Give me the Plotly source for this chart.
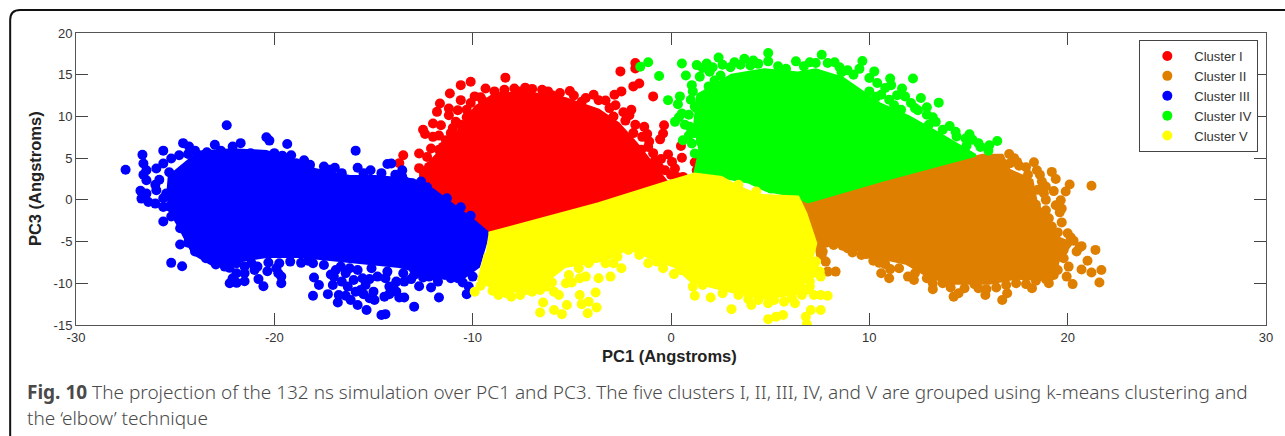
import plotly.graph_objects as go

names = ["Cluster I", "Cluster II", "Cluster III", "Cluster IV", "Cluster V"]
colors = ["#ff0000", "#df7f00", "#0000ff", "#00ff00", "#ffff00"]
x_ticks = [-30, -20, -10, 0, 10, 20, 30]
x_tick_labels = ["-30", "-20", "-10", "0", "10", "20", "30"]
y_ticks = [-15, -10, -5, 0, 5, 10, 15, 20]
y_tick_labels = ["-15", "-10", "-5", "0", "5", "10", "15", "20"]

# dense, fully overlapped part of each cluster, read as an outline
red_core_x = [-12.7,-10.95,-9.85,-8.85,-7.0,-5.35,-3.65,-2.65,-1.75,-0.8,-0.15,-9.2,-10.0,-11.2,-12.7]
red_core_y = [3.15,7.55,11.15,12.75,12.75,12.15,10.75,9.15,6.75,3.95,1.95,-4.0,-2.4,-0.4,2.75]
orange_core_x = [6.55,15.7,16.7,17.05,18.2,18.4,19.05,19.55,20.2,19.55,19.2,17.35,16.05,14.0,12.85,11.85,9.85,8.65,7.75,7.4,7.25]
orange_core_y = [-0.25,5.35,5.35,3.55,2.35,-0.05,-3.2,-4.6,-5.2,-7.2,-9.6,-9.4,-10,-10,-9.0,-7.6,-6.6,-5.0,-5.6,-6.8,-4.4]
blue_core_x = [-25.4,-25.3,-23.8,-22.1,-20.4,-19.1,-17.9,-16.2,-14.9,-13.0,-12.0,-10.0,-9.2,-9.7,-10.4,-12.0,-13.7,-15.4,-17.1,-18.7,-20.4,-22.1,-23.1,-24.1,-24.8,-25.4]
blue_core_y = [-0.1,2.8,5.75,6.0,5.8,4.8,3.6,2.8,2.8,2.4,1.2,-2.4,-4.0,-8.0,-9.2,-9.0,-8.0,-7.6,-7.2,-6.8,-6.8,-7.4,-7.8,-6.4,-3.2,-0.8]
green_core_x = [1.2,1.45,1.2,1.35,3.05,4.7,6.4,7.3,8.65,9.65,10.5,12.0,13.5,15.35,10.65,6.9,6.25,4.8,3.9,2.55]
green_core_y = [3.15,5.95,9.15,12.55,14.95,15.6,15.2,15.6,14.6,13.0,11.55,9.95,7.95,5.35,2.35,-0.25,0.45,1.15,2.15,2.75]
yellow_core_x = [-9.2,-7.0,-3.65,-0.15,1.2,2.55,3.4,4.4,6.4,6.8,7.3,7.05,6.4,4.7,3.05,1.05,0.2,-1.15,-2.15,-3.3,-5.35,-6.65,-8.5,-9.7,-9.35]
yellow_core_y = [-4.0,-2.6,-0.45,2.15,3.1,2.7,1.55,0.55,0.35,-1.65,-5.2,-7.6,-11.2,-11.8,-11,-9.8,-8,-6.8,-5.8,-7.2,-8,-10.4,-11.2,-9.6,-6.4]

# individually visible points
red_pts = [(-8.35,14.65),(-10.1,14.15),(-10.6,13.75),(-9.35,13.35),(-11.15,12.75),(-10.6,11.95),(-11.65,11.55),(-11.2,10.95),(-10.75,10.75),(-11.8,10.55),(-11.2,10.15),(-10.85,9.35),(-12.0,9.15),(-12.5,8.4),(-12.0,7.55),(-11.6,8.95),(-11.35,7.15),(-12.1,6.15),(-12.7,5.55),(-13.5,5.35),(-13.7,4.4),(-11.5,6.35),(-12.3,5.15),(-12.2,3.95),(-11.2,4.85),(-11.7,4.35),(-11.5,3.55),(-10.95,3.15),(-10.35,2.95),(-9.75,1.95),(-10.95,1.15),(-7.9,13.35),(-7.35,13.45),(-6.5,13.2),(-6.0,12.55),(-5.1,13.05),(-3.9,12.6),(-4.5,11.75),(-3.65,11.95),(-2.85,12.6),(-2.5,13.0),(-2.8,11.35),(-2.55,15.4),(-1.8,16.4),(-1.8,15.75),(-1.9,13.6),(-1.6,13.95),(-0.9,12.4),(-2.0,10.8),(-2.1,10.15),(-1.35,8.75),(-0.35,8.95),(-0.4,7.95),(-0.55,7.25),(-1.45,7.55),(0.5,6.45),(-0.15,5.45),(0.55,5.05),(0.05,4.55),(0.2,3.75),(-0.3,3.55),(1.2,4.5),(1.3,3.55),(0.6,2.75),(0.3,2.75),(-0.8,4.75),(-1.15,6.35),
 (-8.9,13.0),(-8.4,13.2),(-7.6,13.0),(-7.0,13.3),(-6.2,13.0),(-5.6,12.8),(-4.9,12.5),(-4.3,12.2),(-3.3,11.9),(-3.1,11.0),(-2.4,10.5),(-2.9,10.0),(-2.3,9.5),(-1.8,9.0),(-1.9,8.0),(-1.2,7.9),(-1.1,7.0),(-1.5,6.0),(-0.9,5.6),(-0.5,4.9),(-0.6,3.9),(0.0,3.0),(-9.6,12.3),(-9.9,12.4),(-10.1,11.6),(-9.5,11.9),(-10.3,10.8),(-10.3,9.9),(-10.6,9.0),(-11.0,8.6),(-11.1,8.0),(-11.7,7.7),(-12.4,7.9),(-11.0,7.0),(-11.7,6.0),(-11.3,5.7),(-12.7,3.8),(-12.3,3.2),(-11.9,2.8),(-11.2,2.2),(-10.6,2.5),(-10.4,1.2),(-10.2,0.6),(-10.9,0.2),(-9.6,0.4),(-10.0,-0.8),(-9.8,-1.6),(-11.1,3.9),(-10.6,4.5),(-10.5,5.6),(-10.2,6.8)]
orange_pts = [(17.05,5.5),(17.45,4.55),(17.55,4.1),(18.3,4.5),(18.45,3.55),(19.2,3.35),(19.4,2.5),(20.1,1.85),(21.2,1.7),(19.9,1.0),(19.3,1.05),(18.9,1.6),(18.9,0),(19.65,-0.05),(19.4,-0.65),(19.7,-1.05),(19.6,-1.5),(18.9,-1.25),(19.05,-2.2),(19.7,-2.7),(20.15,-4.5),(20.7,-5.55),(20.45,-6.2),(21.4,-6.0),(21.0,-7.3),(20.7,-8.35),(21.2,-8.7),(21.7,-8.4),(21.6,-9.9),(20.25,-10.1),(19.95,-9.2),(20.05,-8.0),(19.8,-7.0),(19.05,-10),(18.2,-10.6),(16.7,-12),(16.95,-11.2),(15.85,-11.4),(15.5,-10.6),(14.5,-11.2),(14.25,-11.6),(13.2,-10.7),(13.7,-10),(12.25,-9.6),(11.95,-9.2),(11.0,-9.4),(10.6,-8.8),(11.05,-8.3),(10.5,-7.55),(9.85,-6.5),(9.15,-6.3),(8.65,-5.5),(7.8,-7.4),(7.9,-8.6),(8.3,-8.6),(7.65,-6.2),
 (17.3,5.0),(17.1,4.4),(17.9,3.9),(18.0,3.0),(18.6,3.0),(18.7,2.2),(18.5,1.2),(18.8,0.8),(18.4,-0.6),(18.6,-1.6),(18.7,-2.6),(19.2,-3.2),(19.5,-3.9),(20.0,-4.0),(19.0,-4.5),(20.3,-4.9),(20.6,-5.7),(19.8,-6.0),(19.3,-7.6),(19.5,-8.4),(19.3,-9.0),(18.9,-9.5),(18.4,-9.7),(17.9,-10.1),(17.4,-10.0),(16.9,-10.2),(16.4,-10.5),(15.9,-10.7),(15.3,-10.1),(14.8,-10.6),(14.1,-10.5),(13.2,-10.0),(12.9,-9.4),(12.3,-8.8),(11.5,-8.2),(10.8,-7.7),(10.2,-7.3),(9.6,-6.6),(8.9,-5.8),(8.2,-5.4),(7.6,-6.6),(7.5,-5.6)]
blue_pts = [(-27.5,3.6),(-26.65,5.4),(-25.6,5.9),(-24.6,6.8),(-24.3,6.4),(-23.0,6.6),(-22.4,8.95),(-22.1,6.4),(-21.7,6.8),(-20.4,7.5),(-20.25,7.1),(-19.35,6.7),(-15.9,5.9),(-18.5,4.75),(-19.15,5.35),(-17.5,4.0),(-16.95,3.85),(-15.8,3.85),(-15.15,3.55),(-14.3,4.3),(-14.1,4.35),(-13.55,3.55),(-13.55,2.75),(-14.05,2.15),(-26.6,4.35),(-26.45,3.55),(-26.6,3.0),(-26.45,2.35),(-25.95,3.75),(-25.6,4.35),(-25.2,4.95),(-24.8,5.35),(-24.35,5.5),(-26.75,1.1),(-26.7,0.15),(-26.35,-0.25),(-26.0,-0.45),(-26.45,0.75),(-25.95,1.15),(-25.45,0.75),(-25.6,-0.85),(-25.6,-2.6),(-25.2,-2.0),(-24.75,-3.4),(-24.75,-5.35),(-24.35,-5.15),(-25.2,-7.55),(-24.65,-7.95),(-24.0,-6.2),(-23.45,-7.0),(-22.95,-7.75),(-22.25,-10.0),(-22.25,-8.15),(-21.9,-9.95),(-21.9,-8.8),(-21.5,-8.8),(-21.5,-9.75),(-21.75,-7.0),(-21.15,-7.6),(-20.85,-8.0),(-20.8,-9.5),(-20.55,-10.35),(-20.35,-8.55),(-19.75,-7.6),(-19.8,-8.8),(-19.65,-9.2),(-19.65,-10.0),(-18.65,-7.55),(-18.05,-7.6),(-18.0,-9.3),(-18.05,-11.5),(-17.75,-10.2),(-17.3,-11.3),(-17.15,-8.95),(-17.05,-10.2),(-16.8,-12.3),(-16.75,-11.4),(-16.65,-8.0),(-16.4,-8.8),(-16.3,-10.4),(-16.15,-12.0),(-15.8,-12.6),(-15.8,-8.4),(-15.55,-9.4),(-15.65,-10.8),(-15.4,-10.2),(-15.35,-13.2),(-15.2,-11.8),(-14.95,-12.0),(-14.8,-9.2),(-15.0,-11.0),(-14.6,-13.8),(-14.4,-13.7),(-14.45,-11.6),(-14.2,-10.4),(-13.85,-9.8),(-13.85,-11.0),(-13.7,-11.7),(-13.45,-11.7),(-13.45,-9.8),(-12.95,-12.8),(-12.7,-10.35),(-12.95,-9.0),(-12.1,-10.5),(-12.2,-9.2),(-11.75,-9.8),(-11.7,-11.7),(-11.4,-9.0),(-10.75,-9.4),(-10.3,-11.3),(-10.2,-10.4),
 (-24,5.9),(-23.4,5.7),(-22.7,5.9),(-21.2,5.6),(-20.9,5.2),(-20.0,5.6),(-19.6,5.3),(-18.9,4.4),(-18.2,4.2),(-17.2,3.6),(-16.6,3.2),(-15.5,3.2),(-14.6,3.2),(-13.9,3.0),(-13.4,2.2),(-12.6,2.2),(-12.3,1.5),(-11.3,0.2),(-10.6,-0.9),(-10.1,-1.9),(-25.3,3.3),(-25.0,2.2),(-25.8,2.4),(-26.0,1.8),(-25.6,0.2),(-25.3,-0.8),(-25.0,-1.6),(-24.5,-2.5),(-24.2,-4.0),(-24.3,-4.6),(-23.8,-5.6),(-23.5,-6.2),(-22.5,-7.4),(-21.9,-7.6),(-21.0,-8.4),(-20.3,-7.5),(-19.2,-7.4),(-18.3,-7.3),(-17.5,-7.8),(-16.9,-8.4),(-16.2,-8.2),(-15.1,-8.2),(-14.3,-8.6),(-13.5,-8.8),(-13.0,-8.2),(-12.5,-8.8),(-11.8,-9.3),(-11.1,-9.4),(-10.5,-9.9),(-10.0,-9.2),(-17,-9.2),(-16.6,-9.8),(-16.0,-9.6),(-15.2,-9.5),(-14.4,-9.4),(-14.0,-10.4),(-15.9,-11.0),(-16.4,-11.5),(-15.5,-11.3),(-14.2,-11.3),(-13.1,-9.5),(-12.5,-9.3),(-19.9,-8.2),(-22.1,-9.4),(-21.5,-8.0),(-22.5,-8.0)]
green_pts = [(-1.15,16.5),(-1.55,15.95),(-0.6,14.85),(0.55,16.35),(-0.15,11.95),(0.45,12.4),(0.35,11.45),(0.75,14.9),(1.05,13.75),(1.3,16.15),(1.8,16.35),(2.4,17.05),(1.45,14.75),(3.2,16.5),(3.7,16.9),(4.15,16.7),(4.9,17.6),(6.3,16.6),(7.0,16.5),(7.6,17.4),(8.25,16.5),(8.9,15.55),(9.65,16.65),(10.25,15.4),(11.05,14.55),(0.2,9.35),(0.55,10.35),(0.6,7.15),(0.95,8.75),(1.05,6.75),(1.2,5.55),(1.55,12.35),(1.95,15.35),(5.05,1.35),(11.1,13.75),(12.2,14.55),(11.65,13.35),(11.4,12.55),(12.6,12.2),(13.5,11.65),(12.9,11.1),(12.45,10.75),(11.25,11.35),(10.35,12.35),(10.65,10.75),(13.35,9.35),(14.05,8.85),(14.35,8.15),(15.05,7.85),(14.85,7.35),(16.45,7.05),(16.05,6.55),(15.6,6.35),
 (1.6,15.8),(2.1,15.9),(2.6,16.2),(3.0,15.9),(3.5,16.2),(4.0,16.1),(4.4,16.3),(4.9,16.6),(5.4,16.0),(5.8,15.7),(6.7,16.0),(7.3,16.4),(7.9,16.4),(8.5,15.9),(8.6,15.3),(9.2,15.0),(9.5,15.7),(10.0,14.6),(10.4,14.0),(10.8,13.4),(10.0,13.0),(10.6,12.6),(11.0,12.0),(11.8,12.4),(12.1,11.6),(12.3,11.0),(11.6,10.8),(12.9,10.2),(13.2,9.9),(13.0,9.0),(13.7,8.4),(14.4,7.6),(15.2,7.2),(15.5,6.8),(14.9,6.5),(16.0,5.9),(1.0,12.0),(1.2,11.2),(0.9,10.2),(0.4,9.9),(0.7,9.0),(1.2,8.0),(0.9,7.7),(1.5,7.0),(1.5,9.9),(1.3,11.0),(1.1,13.0),(1.9,13.6),(2.2,14.3),(2.5,14.9),(1.9,12.9),(2.6,13.7)]
yellow_pts = [(-9.9,-11),(-8.7,-11.4),(-8.05,-11.6),(-6.6,-10.8),(-6.45,-12.3),(-5.65,-11.4),(-6.6,-13.5),(-5.9,-13.2),(-5.5,-13.7),(-5.25,-12.6),(-4.6,-11.4),(-4.5,-12.5),(-4.15,-12.2),(-3.75,-12.9),(-4.2,-13.6),(-3.8,-11.1),(-5.15,-9),(-4.65,-8.2),(-4.15,-7.6),(-4.3,-9.2),(-3.65,-9.4),(-3.05,-9.2),(-2.5,-8.2),(-3.3,-7.6),(-2.15,-6),(-1.15,-7.6),(-0.4,-8.2),(0.15,-8.9),(1.1,-10.4),(1.2,-11.5),(2.0,-11.7),(3.05,-13.1),(4.05,-12.6),(4.9,-14.3),(5.3,-14),(5.65,-13.8),(4.9,-12.4),(6.25,-12.4),(6.8,-14),(7.05,-13.2),(7.55,-13.2),(6.85,-14.9),(7.2,-11.4),(7.55,-11.4),(7.9,-11.5),(7.55,-9.2),(7.15,-8.8),(6.75,-9.4),(7.3,-7.4),(6.8,-10.8),(3.4,1.8),(4.3,1.0),
 (-9.6,-10.3),(-9.0,-10.9),(-8.3,-11.2),(-7.6,-11.4),(-7.3,-10.8),(-7.0,-11.0),(-6.3,-10.4),(-6.0,-9.9),(-5.9,-11.0),(-5.3,-10.0),(-5.0,-9.9),(-4.6,-9.4),(-2.9,-7.6),(-2.7,-6.8),(-1.6,-6.6),(-0.7,-7.4),(0.5,-8.4),(1.0,-9.0),(1.6,-10.2),(2.6,-11.2),(3.4,-11.4),(3.9,-11.9),(4.4,-12.0),(5.2,-12.0),(5.7,-12.2),(6.1,-11.8),(6.6,-11.4),(7.0,-10.4),(6.5,-10.2),(7.0,-9.8),(7.5,-8.6),(7.2,-8.0)]

cores = [(red_core_x, red_core_y), (orange_core_x, orange_core_y), (blue_core_x, blue_core_y), (green_core_x, green_core_y), (yellow_core_x, yellow_core_y)]
points = [red_pts, orange_pts, blue_pts, green_pts, yellow_pts]

W, H = 1285, 436
L, R, T, B = 76, 1269, 33, 325
px = lambda v: (v - L) / (R - L)
py = lambda v: (B - v) / (B - T)

fig = go.Figure()
for name, color, (cx, cy), pts in zip(names, colors, cores, points):
    fig.add_trace(go.Scatter(x=cx, y=cy, mode="lines", fill="toself", fillcolor=color,
                             line=dict(color=color, width=3), showlegend=False, hoverinfo="skip"))
    fig.add_trace(go.Scatter(x=[p[0] for p in pts], y=[p[1] for p in pts], mode="markers", name=name,
                             marker=dict(color=color, size=10, line=dict(width=0))))

axis = dict(showgrid=False, zeroline=False, showline=True, mirror="ticks", ticks="inside", ticklen=12,
            tickwidth=1, tickcolor="#444", linecolor="#555", linewidth=1,
            tickfont=dict(family="Liberation Sans", size=13, color="#333"))
caption_font = dict(family="Noto Sans", size=19, color="#4a4a4a", weight=300)
fig.update_layout(
    width=W, height=H, autosize=False, paper_bgcolor="white", plot_bgcolor="white",
    margin=dict(l=L, r=W - R, t=T, b=H - B),
    font=dict(family="Liberation Sans", color="#333"),
    xaxis=dict(axis, range=[-30, 30], tickvals=x_ticks, ticktext=x_tick_labels),
    yaxis=dict(axis, range=[-15, 20], tickvals=y_ticks, ticktext=y_tick_labels),
    legend=dict(x=px(1142), y=py(40), xanchor="left", yanchor="top", bgcolor="white", bordercolor="#444",
                borderwidth=1, itemwidth=44, entrywidth=76, font=dict(size=13, color="#333"), traceorder="normal"),
    shapes=[dict(type="path", xref="paper", yref="paper", line=dict(color="#111", width=2),
                 path=f"M {px(10)},{py(440)} L {px(10)},{py(20)} Q {px(10)},{py(10)} {px(20)},{py(10)} L {px(1290)},{py(10)}")],
    annotations=[
        dict(text="<b>PC1 (Angstroms)</b>", x=px(671), y=py(356), xref="paper", yref="paper", yanchor="middle", showarrow=False,
             font=dict(family="Liberation Sans", size=16.5, color="#222")),
        dict(text="<b>PC3 (Angstroms)</b>", x=px(35), y=py(179), xref="paper", yref="paper", xanchor="center", yanchor="middle", showarrow=False, textangle=-90,
             font=dict(family="Liberation Sans", size=16.5, color="#222")),
        dict(text="<b>Fig. 10</b> The projection of the 132 ns simulation over PC1 and PC3. The five clusters I, II, III, IV, and V are grouped using k-means clustering and",
             x=px(25), y=py(392), xref="paper", yref="paper", xanchor="left", yanchor="middle", showarrow=False, font=caption_font),
        dict(text="the ‘elbow’ technique", x=px(25), y=py(418), xref="paper", yref="paper", xanchor="left", yanchor="middle", showarrow=False, font=caption_font),
    ],
)
fig.write_html("out.html", config=dict(displayModeBar=False),
               post_script="document.body.style.margin='0';document.body.style.overflow='hidden';")
